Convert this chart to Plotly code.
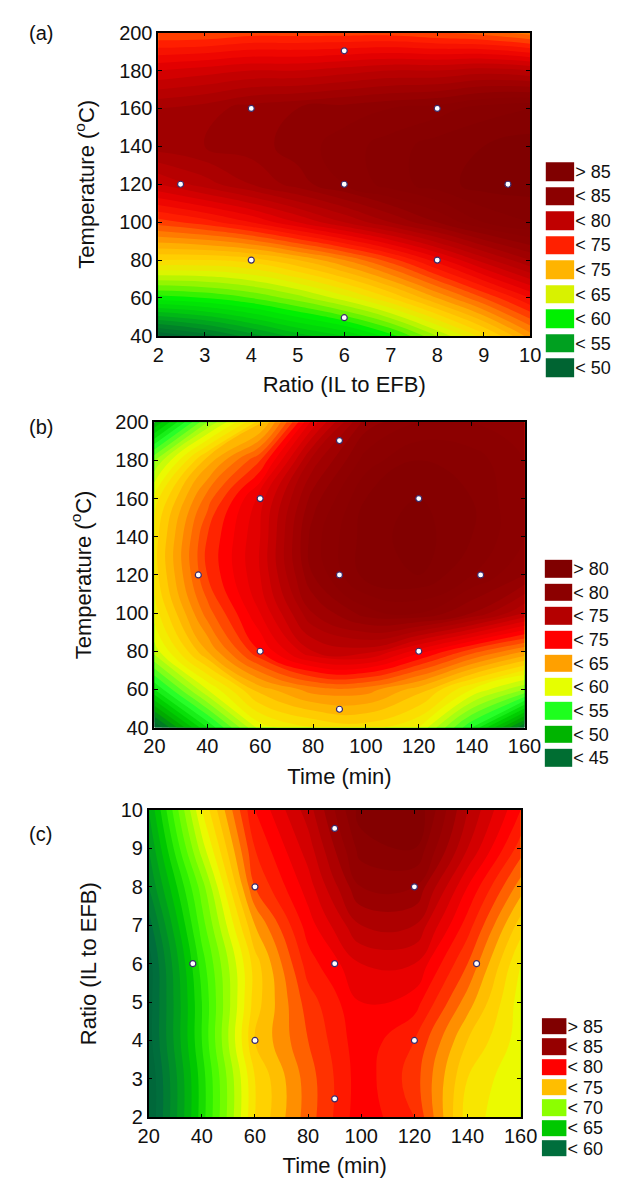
import plotly.graph_objects as go

# ---------------- DATA ----------------
# Panel (a): Ratio (IL to EFB) vs Temperature
ratio_a = [2, 3, 4, 5, 6, 7, 8, 9, 10]
temp_a = [40, 60, 80, 100, 120, 140, 160, 180, 200]
yield_a = [
    [48, 49.5, 51.5, 53.5, 55, 57.5, 61, 64.5, 68.5],
    [57.5, 58, 59, 60.5, 62.5, 65, 68, 71, 74],
    [65, 65, 65.5, 67, 69, 71.5, 74.5, 77.5, 80],
    [71.5, 72.5, 74, 76, 78, 80, 82, 84, 85],
    [77, 78.5, 80, 81.5, 83, 84.5, 85.5, 86.5, 86.5],
    [80.5, 81, 81.5, 82.5, 83.5, 84.5, 85.5, 86, 86.5],
    [80, 80.5, 81.5, 82, 82.5, 83, 83.5, 84.5, 85],
    [76, 76.5, 77, 77, 77.5, 78, 78, 78.5, 78],
    [71, 71, 71.5, 71.5, 71.5, 71.5, 71, 70.5, 69.5],
]
pts_a_ratio = [2.48, 4, 4, 6, 6, 6, 8, 8, 9.52]
pts_a_temp = [120, 160, 80, 190.4, 120, 49.6, 160, 80, 120]
legend_a = ["< 50", "< 55", "< 60", "< 65", "< 75", "< 75", "< 80", "< 85", "> 85"]

# Panel (b): Time vs Temperature
time_b = [20, 40, 60, 80, 100, 120, 140, 160]
temp_b = [40, 60, 80, 100, 120, 140, 160, 180, 200]
yield_b = [
    [44, 51, 57.5, 59, 59.5, 58, 52, 45],
    [51, 57, 61.5, 63.5, 63.5, 61.5, 58, 55],
    [56.5, 62, 67, 71, 71.5, 68.5, 65.5, 63],
    [58.5, 64.5, 69, 74, 76.5, 77, 75, 72],
    [59.5, 66, 70, 76, 79.5, 80, 78, 76],
    [59.5, 66, 70, 76.5, 79.5, 80.5, 79, 77],
    [58.5, 64.5, 69.5, 75.5, 79, 80, 79, 77],
    [55, 61.5, 66, 73.5, 77.5, 79, 78.5, 77],
    [48, 55, 60.5, 69.5, 75.5, 77, 77, 76],
]
pts_b_time = [36.6, 60, 60, 90, 90, 90, 120, 120, 143.4]
pts_b_temp = [120, 160, 80, 190.4, 120, 49.6, 160, 80, 120]
legend_b = ["< 45", "< 50", "< 55", "< 60", "< 65", "< 75", "< 75", "< 80", "> 80"]

# Panel (c): Time vs Ratio (IL to EFB)
time_c = [20, 40, 60, 80, 100, 120, 140, 160]
ratio_c = [2, 3, 4, 5, 6, 7, 8, 9, 10]
yield_c = [
    [56, 63.5, 71, 74.5, 77.7, 76, 70.5, 69],
    [56, 63.5, 71, 74.5, 77.6, 75.5, 71, 69],
    [56.5, 64, 72, 75, 77.7, 76, 72, 69.5],
    [56.5, 64, 71.5, 75.5, 78, 77.5, 73.5, 69.5],
    [56.5, 64.5, 71.5, 76.5, 79, 79, 75, 70],
    [57.5, 65.5, 73, 77.5, 81, 81, 76.5, 71.5],
    [59, 66.5, 75, 78.5, 83, 83, 78, 73.5],
    [60, 68.5, 76, 79.5, 84.5, 85, 80, 75.5],
    [61, 70, 77, 80.5, 85.5, 86, 81, 77],
]
pts_c_time = [36.6, 60, 60, 90, 90, 90, 120, 120, 143.4]
pts_c_ratio = [6, 8, 4, 9.52, 6, 2.48, 8, 4, 6]
legend_c = ["< 60", "< 65", "< 70", "< 75", "< 80", "< 85", "> 85"]

# ---------------- STYLE ----------------
FONT = "Liberation Sans, Arial, Helvetica, sans-serif"
W, H = 640, 1196

anchors_a = [(46, (0, 88, 45)), (48, (0, 100, 50)), (50.5, (0, 130, 40)), (52.5, (0, 165, 30)),
             (55, (0, 210, 10)), (57.5, (0, 240, 0)), (60, (130, 245, 0)), (62.5, (220, 245, 0)),
             (65, (255, 215, 0)), (67.5, (255, 175, 0)), (70, (255, 110, 0)), (72.5, (255, 30, 0)),
             (75, (235, 0, 0)), (77.5, (195, 0, 0)), (80, (165, 0, 0)), (82.5, (142, 0, 0)),
             (85, (135, 0, 0)), (88, (120, 0, 0))]
anchors_b = [(42, (0, 90, 50)), (45, (0, 110, 45)), (47.5, (0, 170, 0)), (50, (0, 215, 0)),
             (52.5, (40, 255, 40)), (55, (150, 255, 20)), (57.5, (235, 250, 0)), (60, (255, 215, 0)),
             (62.5, (255, 160, 0)), (65, (255, 90, 0)), (67.5, (255, 0, 0)), (70, (220, 0, 0)),
             (72.5, (180, 0, 0)), (76, (145, 0, 0)), (82, (125, 0, 0))]
anchors_c = [(55, (0, 95, 55)), (57.5, (0, 110, 60)), (60, (0, 150, 35)), (62.5, (0, 200, 0)),
             (65, (60, 250, 0)), (67.5, (150, 255, 0)), (69.5, (235, 250, 0)), (71, (255, 220, 0)),
             (72.5, (255, 190, 0)), (74, (255, 120, 0)), (75.5, (255, 50, 0)), (77.5, (255, 0, 0)),
             (80, (200, 0, 0)), (82.5, (155, 0, 0)), (85, (135, 0, 0)), (88, (118, 0, 0))]

leg_colors_a = ["#006432", "#00a020", "#00f000", "#d8f200", "#ffb400", "#ff2000", "#c00000", "#8c0000", "#800000"]
leg_colors_b = ["#006e32", "#00b400", "#1eff1e", "#e6ff00", "#ffa000", "#ff0000", "#b40000", "#8c0000", "#800000"]
leg_colors_c = ["#006e3c", "#00c800", "#8cff00", "#ffbe00", "#ff0000", "#960000", "#800000"]


def rgb(c):
    return "rgb(%d,%d,%d)" % c


def build_scale(anchors):
    lo, hi = anchors[0][0], anchors[-1][0]
    return [[(v - lo) / (hi - lo), rgb(c)] for v, c in anchors], lo, hi


def disc_scale(colors):
    n = len(colors)
    return [[i / (n - 1), c] for i, c in enumerate(colors)]


def xd(a, b):
    return [a / W, b / W]


def yd(top, bottom):
    return [1 - bottom / H, 1 - top / H]


fig = go.Figure()

panels = [
    dict(x=ratio_a, y=temp_a, z=yield_a, px=pts_a_ratio, py=pts_a_temp, anch=anchors_a,
         xa="x", ya="y", xdom=xd(154, 543), ydom=yd(22, 331), xr=[2, 10], yr=[40, 200],
         xdt=1, ydt=20, xt="Ratio (IL to EFB)", yt="Temperature (<sup>o</sup>C)"),
    dict(x=time_b, y=temp_b, z=yield_b, px=pts_b_time, py=pts_b_temp, anch=anchors_b,
         xa="x2", ya="y2", xdom=xd(150, 537), ydom=yd(419, 730), xr=[20, 160], yr=[40, 200],
         xdt=20, ydt=20, xt="Time (min)", yt="Temperature (<sup>o</sup>C)"),
    dict(x=time_c, y=ratio_c, z=yield_c, px=pts_c_time, py=pts_c_ratio, anch=anchors_c,
         xa="x3", ya="y3", xdom=xd(144, 533), ydom=yd(814, 1127), xr=[20, 160], yr=[2, 10],
         xdt=20, ydt=1, xt="Time (min)", yt="Ratio (IL to EFB)"),
]

legends = [
    dict(labels=legend_a, colors=leg_colors_a, xa="x4", ya="y4", xdom=xd(559, 589), ydom=yd(151, 376), gap=6),
    dict(labels=legend_b, colors=leg_colors_b, xa="x5", ya="y5", xdom=xd(558, 587), ydom=yd(556, 773), gap=6),
    dict(labels=legend_c, colors=leg_colors_c, xa="x6", ya="y6", xdom=xd(555, 581), ydom=yd(1024, 1169), gap=4),
]

layout_axes = {}
tickfont = dict(family=FONT, size=20, color="#111")
titlefont = dict(family=FONT, size=22, color="#111")

for p in panels:
    cs, lo, hi = build_scale(p["anch"])
    fig.add_trace(go.Contour(
        x=p["x"], y=p["y"], z=p["z"], xaxis=p["xa"], yaxis=p["ya"],
        colorscale=cs, zmin=lo, zmax=hi, zauto=False, showscale=False,
        autocontour=False,
        contours=dict(start=lo, end=hi, size=1, coloring="fill", showlines=False),
        line=dict(width=0, smoothing=1.3), hoverinfo="skip"))
    fig.add_trace(go.Scatter(
        x=p["px"], y=p["py"], xaxis=p["xa"], yaxis=p["ya"], mode="markers",
        marker=dict(size=6, color="white", line=dict(width=1.2, color="#3a2a6a")),
        showlegend=False, hoverinfo="skip"))
    xk = "xaxis" + p["xa"][1:]
    yk = "yaxis" + p["ya"][1:]
    common = dict(showline=True, linecolor="black", linewidth=1.5, mirror="ticks",
                  ticks="inside", ticklen=4, tickcolor="black", showgrid=False,
                  zeroline=False, tickfont=tickfont)
    layout_axes[xk] = dict(common, domain=p["xdom"], range=p["xr"], dtick=p["xdt"],
                           tick0=p["xr"][0], anchor=p["ya"],
                           title=dict(text=p["xt"], font=titlefont, standoff=12))
    layout_axes[yk] = dict(common, domain=p["ydom"], range=p["yr"], dtick=p["ydt"],
                           tick0=p["yr"][0], anchor=p["xa"],
                           title=dict(text=p["yt"], font=titlefont, standoff=18))

for L in legends:
    n = len(L["labels"])
    idx = list(range(n))
    fig.add_trace(go.Heatmap(
        x=[0], y=idx, z=[[i] for i in idx], xaxis=L["xa"], yaxis=L["ya"],
        colorscale=disc_scale(L["colors"]), zmin=0, zmax=n - 1, showscale=False,
        ygap=L["gap"], hoverinfo="skip"))
    xk = "xaxis" + L["xa"][1:]
    yk = "yaxis" + L["ya"][1:]
    layout_axes[xk] = dict(domain=L["xdom"], range=[-0.5, 0.5],
                           visible=False, anchor=L["ya"], fixedrange=True)
    layout_axes[yk] = dict(domain=L["ydom"], range=[-0.5, n - 0.5], side="right", anchor=L["xa"],
                           tickvals=idx, ticktext=L["labels"], ticks="",
                           showline=False, showgrid=False, zeroline=False,
                           tickfont=dict(family=FONT, size=18, color="#111"), fixedrange=True)

annotations = []
for lab, ypx in [("(a)", 22), ("(b)", 424), ("(c)", 838)]:
    annotations.append(dict(text=lab, x=17 / W, y=1 - ypx / H,
                            xref="paper", yref="paper",
                            xanchor="left", yanchor="middle", showarrow=False,
                            font=dict(family=FONT, size=20, color="#111")))

fig.update_layout(width=W, height=H, autosize=False, margin=dict(l=0, r=0, t=0, b=0),
                  paper_bgcolor="white", plot_bgcolor="white", showlegend=False,
                  annotations=annotations, **layout_axes)

fig.write_html("out.html")
